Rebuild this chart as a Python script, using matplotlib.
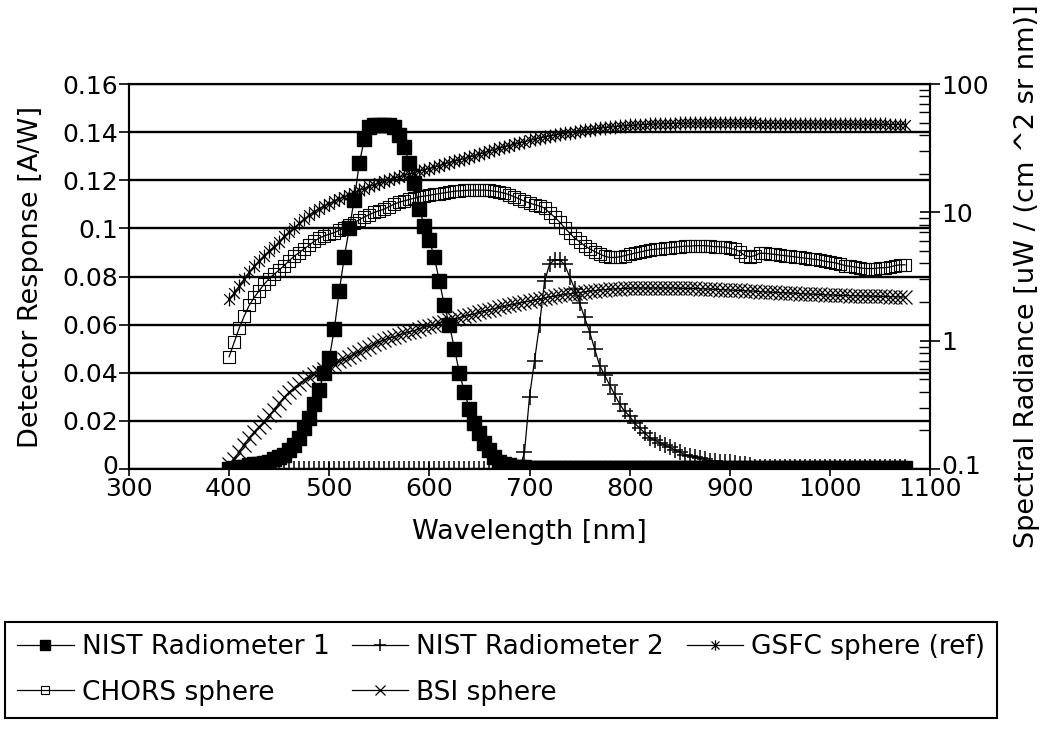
import matplotlib
matplotlib.use("Agg")
import matplotlib.pyplot as plt
import matplotlib.transforms as mtransforms
from matplotlib.path import Path
from matplotlib.ticker import FixedLocator, LogLocator, NullFormatter

plt.rcParams['font.family'] = ['DejaVu Sans']

# ---------------- data ----------------
wavelength = list(range(400, 1080, 5))  # nm sampling grid (400 ... 1075)

nist_radiometer_1 = [
    0.000, 0.0005, 0.001, 0.001, 0.0015, 0.002, 0.002, 0.0025, 0.003, 0.004,
    0.005, 0.006, 0.008, 0.010, 0.013, 0.017, 0.021, 0.027, 0.033, 0.040,
    0.046, 0.058, 0.074, 0.088, 0.100, 0.112, 0.127, 0.137, 0.142, 0.143,
    0.143, 0.143, 0.143, 0.142, 0.139, 0.134, 0.127, 0.119, 0.108, 0.101,
    0.095, 0.088, 0.078, 0.068, 0.060, 0.050, 0.040, 0.032, 0.025, 0.019,
    0.015, 0.011, 0.008, 0.005, 0.003, 0.002, 0.0015, 0.001, 0.001, 0.0008,
    0.0005,
    0.0005, 0.0005, 0.0004, 0.0004, 0.0003, 0.0003, 0.0003, 0.0003, 0.0003, 0.0003,
    0.0003, 0.0003, 0.0003, 0.0003, 0.0003, 0.0003, 0.0003, 0.0003, 0.0003, 0.0003,
    0.0003, 0.0003, 0.0003, 0.0003, 0.0003, 0.0003, 0.0003, 0.0003, 0.0003, 0.0003,
    0.0003, 0.0003, 0.0003, 0.0003, 0.0003, 0.0003, 0.0003, 0.0003, 0.0003, 0.0003,
    0.0003, 0.0003, 0.0003, 0.0003, 0.0003, 0.0003, 0.0003, 0.0003, 0.0003, 0.0003,
    0.0003, 0.0003, 0.0003, 0.0003, 0.0003, 0.0003, 0.0003, 0.0003, 0.0003, 0.0003,
    0.0003, 0.0003, 0.0003, 0.0003, 0.0003, 0.0003, 0.0003, 0.0003, 0.0003, 0.0003,
    0.0003, 0.0003, 0.0003, 0.0003, 0.0003,
]

nist_radiometer_2 = [
    0.0, 0.0, 0.0, 0.0, 0.0, 0.0, 0.0, 0.0, 0.0, 0.0,
    0.0, 0.0, 0.0, 0.0, 0.0, 0.0, 0.0, 0.0, 0.0, 0.0,
    0.0, 0.0, 0.0, 0.0, 0.0, 0.0, 0.0, 0.0, 0.0, 0.0,
    0.0, 0.0, 0.0, 0.0, 0.0, 0.0, 0.0, 0.0, 0.0, 0.0,
    0.0, 0.0, 0.0, 0.0, 0.0, 0.0, 0.0, 0.0, 0.0, 0.0,
    0.0, 0.0, 0.0, 0.0, 0.0, 0.0, 0.0, 0.0, 0.0,
    0.007, 0.030, 0.045, 0.060, 0.078, 0.085, 0.087, 0.087, 0.085, 0.080,
    0.075, 0.069, 0.063, 0.057, 0.050, 0.043, 0.039, 0.035, 0.031, 0.027,
    0.024, 0.022, 0.019, 0.017, 0.015, 0.013, 0.012, 0.011, 0.010, 0.009,
    0.008, 0.007, 0.006, 0.0055, 0.005, 0.0045, 0.004, 0.0035, 0.0033, 0.003,
    0.003, 0.0028, 0.0025, 0.002, 0.002, 0.0015,
    0.001, 0.001, 0.001, 0.001, 0.001, 0.001, 0.001, 0.001, 0.001, 0.001,
    0.001, 0.001, 0.001, 0.001, 0.001, 0.001, 0.001, 0.001, 0.001, 0.001,
    0.001, 0.001, 0.001, 0.001, 0.001, 0.001, 0.001, 0.001, 0.001, 0.001,
    0.001,
]

gsfc_sphere = [
    2.1, 2.35, 2.65, 3.0, 3.4, 3.8, 4.2, 4.6, 5.0, 5.4,
    5.9, 6.5, 7.0, 7.6, 8.2, 8.8, 9.5, 10.1, 10.7, 11.2,
    11.7, 12.2, 12.7, 13.2, 13.7, 14.2, 14.8, 15.3, 15.9, 16.4,
    16.9, 17.4, 17.9, 18.4, 18.9, 19.4, 19.9, 20.4, 20.9, 21.4,
    21.9, 22.5, 23.1, 23.8, 24.4, 25.0, 25.6, 26.2, 26.9, 27.6,
    28.4, 29.2, 30.0, 30.8, 31.6, 32.4, 33.1, 33.9, 34.7, 35.5,
    36.3, 37.1, 37.9, 38.6, 39.3, 39.9, 40.6, 41.2, 41.8, 42.5,
    43.1, 43.7, 44.2, 44.7, 45.2, 45.7, 46.1, 46.5, 46.9, 47.2,
    47.5, 47.8, 48.1, 48.3, 48.5, 48.7, 48.9, 49.0, 49.1, 49.2,
    49.3, 49.4, 49.5, 49.5, 49.5, 49.5, 49.5, 49.5, 49.5, 49.5,
    49.4, 49.4, 49.4, 49.3, 49.3, 49.3, 49.2, 49.2, 49.2, 49.1,
    49.1, 49.0, 49.0, 49.0, 48.9, 48.9, 48.9, 48.8, 48.8, 48.8,
    48.7, 48.7, 48.7, 48.6, 48.6, 48.6, 48.5, 48.5, 48.5, 48.4,
    48.4, 48.4, 48.3, 48.3, 48.3, 48.2,
]

chors_sphere = [
    0.75, 0.97, 1.25, 1.55, 1.88, 2.17, 2.45, 2.75, 3.05, 3.30,
    3.55, 3.85, 4.2, 4.55, 4.85, 5.2, 5.55, 5.95, 6.3, 6.55,
    6.75, 6.95, 7.25, 7.6, 7.95, 8.3, 8.75, 9.2, 9.6, 10.0,
    10.3, 10.6, 11.1, 11.6, 12.0, 12.3, 12.6, 12.9, 13.2, 13.4,
    13.6, 13.8, 14.0, 14.2, 14.4, 14.6, 14.7, 14.8, 14.9, 14.9,
    14.9, 14.9, 14.8, 14.6, 14.4, 14.1, 13.7, 13.2, 12.7, 12.2,
    11.8, 11.5, 11.2, 10.8, 9.9, 9.2, 8.4, 7.6, 6.9, 6.3,
    5.9, 5.5, 5.2, 4.95, 4.75, 4.55, 4.45, 4.45, 4.5, 4.6,
    4.7, 4.8, 4.9, 5.0, 5.1, 5.15, 5.2, 5.25, 5.3, 5.35,
    5.4, 5.45, 5.45, 5.5, 5.5, 5.5, 5.45, 5.4, 5.4, 5.35,
    5.25, 5.15, 4.95, 4.6, 4.5, 4.6, 4.8, 4.8, 4.75, 4.7,
    4.65, 4.6, 4.55, 4.5, 4.45, 4.4, 4.35, 4.3, 4.25, 4.15,
    4.1, 4.05, 3.95, 3.85, 3.8, 3.75, 3.7, 3.65, 3.65, 3.65,
    3.7, 3.7, 3.75, 3.85, 3.9, 3.9,
]

bsi_sphere = [
    0.110, 0.120, 0.135, 0.155, 0.174, 0.195, 0.214, 0.234, 0.263, 0.288,
    0.324, 0.363, 0.398, 0.427, 0.462, 0.490, 0.519, 0.550, 0.575, 0.600,
    0.630, 0.660, 0.690, 0.720, 0.750, 0.785, 0.820, 0.860, 0.900, 0.940,
    0.980, 1.01, 1.05, 1.07, 1.11, 1.14, 1.17, 1.20, 1.24, 1.27,
    1.30, 1.33, 1.38, 1.41, 1.45, 1.48, 1.51, 1.55, 1.58, 1.62,
    1.66, 1.70, 1.74, 1.78, 1.82, 1.85, 1.89, 1.92, 1.96, 2.00,
    2.03, 2.07, 2.11, 2.15, 2.19, 2.22, 2.25, 2.29, 2.32, 2.34,
    2.37, 2.40, 2.43, 2.45, 2.48, 2.50, 2.51, 2.53, 2.54, 2.55,
    2.56, 2.57, 2.57, 2.57, 2.57, 2.57, 2.57, 2.57, 2.57, 2.57,
    2.56, 2.56, 2.55, 2.55, 2.54, 2.53, 2.52, 2.51, 2.50, 2.49,
    2.48, 2.47, 2.46, 2.45, 2.44, 2.43, 2.41, 2.40, 2.39, 2.38,
    2.37, 2.36, 2.35, 2.34, 2.33, 2.32, 2.31, 2.30, 2.29, 2.28,
    2.27, 2.26, 2.25, 2.25, 2.24, 2.24, 2.23, 2.23, 2.22, 2.22,
    2.21, 2.21, 2.20, 2.20, 2.19, 2.19,
]

series_names = ["NIST Radiometer 1", "NIST Radiometer 2", "GSFC sphere (ref)",
                "CHORS sphere", "BSI sphere"]

x_ticks = [300, 400, 500, 600, 700, 800, 900, 1000, 1100]
left_ticks = [0, 0.02, 0.04, 0.06, 0.08, 0.1, 0.12, 0.14, 0.16]
left_tick_labels = ["0", "0.02", "0.04", "0.06", "0.08", "0.1", "0.12", "0.14", "0.16"]
right_ticks = [0.1, 1, 10, 100]
right_tick_labels = ["0.1", "1", "10", "100"]

# ---------------- figure ----------------
fig = plt.figure(figsize=(10.49, 7.30), dpi=100)
ax = fig.add_axes([129 / 1049, 1 - 469 / 730, 801 / 1049, 385 / 730])
ax2 = ax.twinx()

asterisk = Path([(-1, -1), (1, 1), (-1, 1), (1, -1), (0, -1.3), (0, 1.3)],
                [Path.MOVETO, Path.LINETO, Path.MOVETO, Path.LINETO, Path.MOVETO, Path.LINETO])

lw = 0.9
h1, = ax.plot(wavelength, nist_radiometer_1, color='black', lw=lw, marker='s',
              markersize=9.5, markerfacecolor='black', markeredgecolor='black',
              label=series_names[0], zorder=3)
h2, = ax.plot(wavelength, nist_radiometer_2, color='black', lw=lw, marker='+',
              markersize=11, markeredgewidth=1.1, label=series_names[1], zorder=3)

h3, = ax2.plot(wavelength, gsfc_sphere, color='black', lw=lw, marker=asterisk,
               markersize=10, markeredgewidth=0.9, label=series_names[2])
h4, = ax2.plot(wavelength, chors_sphere, color='black', lw=lw, marker='s',
               markersize=8.5, markerfacecolor='none', markeredgecolor='black',
               markeredgewidth=0.8, label=series_names[3])
h5, = ax2.plot(wavelength, bsi_sphere, color='black', lw=lw, marker='x',
               markersize=10, markeredgewidth=0.9, label=series_names[4])

ax.set_xlim(300, 1100)
ax.set_ylim(0, 0.16)
ax2.set_yscale('log')
ax2.set_ylim(0.1, 100)

ax.set_xticks(x_ticks)
ax.set_xticklabels([str(t) for t in x_ticks])
ax.set_yticks(left_ticks)
ax.set_yticklabels(left_tick_labels)
ax2.yaxis.set_major_locator(FixedLocator(right_ticks))
ax2.set_yticklabels(right_tick_labels)
ax2.yaxis.set_minor_locator(LogLocator(base=10, subs=range(2, 10)))
ax2.yaxis.set_minor_formatter(NullFormatter())

ax.yaxis.grid(True, color='black', lw=1.7)
ax.set_axisbelow(True)

for a in (ax, ax2):
    for s in a.spines.values():
        s.set_color('black')
        s.set_linewidth(1.5)

fs_tick = 18
fs_lab = 19.5
ax.tick_params(axis='x', which='major', direction='inout', length=10, width=1.2,
               labelsize=fs_tick, pad=1)
ax.tick_params(axis='y', which='major', direction='inout', length=14, width=1.2,
               labelsize=fs_tick, pad=1)
ax2.tick_params(axis='y', which='major', direction='inout', length=14, width=1.2,
                labelsize=fs_tick, pad=1)
ax2.tick_params(axis='y', which='minor', direction='in', length=8, width=1.0)

# nudge the two bottom value labels up so they clear the wavelength labels
up = mtransforms.ScaledTranslation(0, 5 / 100, fig.dpi_scale_trans)
ax.get_yticklabels()[0].set_transform(ax.get_yticklabels()[0].get_transform() + up)
ax2.get_yticklabels()[0].set_transform(ax2.get_yticklabels()[0].get_transform() + up)

ax.set_xlabel("Wavelength [nm]", fontsize=fs_lab, labelpad=13)
ax.set_ylabel("Detector Response [A/W]", fontsize=fs_lab, labelpad=13)
ax2.set_ylabel("Spectral Radiance [uW / (cm ^2 sr nm)]", fontsize=fs_lab, labelpad=18)

leg = fig.legend(handles=[h1, h4, h2, h5, h3], loc='upper left',
                 bbox_to_anchor=(5 / 1049, 1 - 622 / 730), ncol=3, fontsize=19,
                 frameon=True, fancybox=False, edgecolor='black', framealpha=1,
                 handlelength=2.15, handletextpad=0.3, columnspacing=0.85,
                 labelspacing=0.75, borderpad=0.45, borderaxespad=0,
                 markerscale=0.75)
leg.get_frame().set_linewidth(1.5)

fig.savefig("out.png", dpi=100)
